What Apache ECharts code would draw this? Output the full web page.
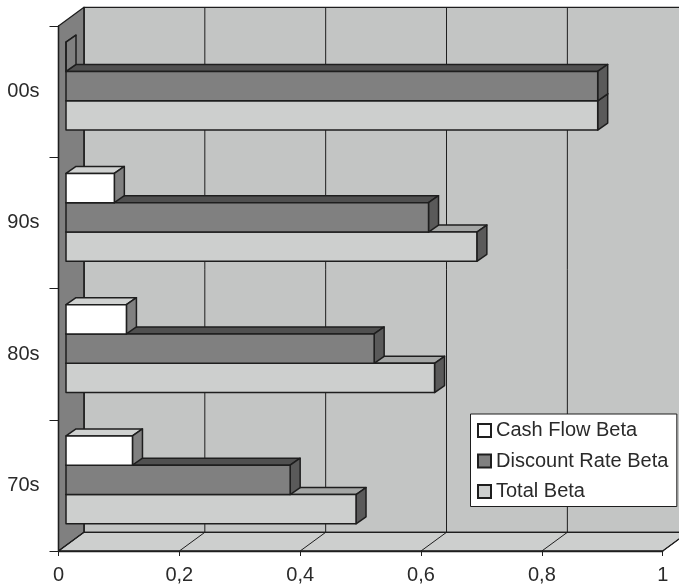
<!DOCTYPE html>
<html>
<head>
<meta charset="utf-8">
<script src="https://cdn.jsdelivr.net/npm/echarts@6/dist/echarts.min.js"></script>
<style>html,body{margin:0;padding:0;background:#fff}#c{width:679px;height:584px}</style>
</head>
<body>
<div id="c"></div>
<script>
const categories = ['70s', '80s', '90s', '00s'];
const cashFlowBeta = [0.11, 0.10, 0.08, 0];
const discountRateBeta = [0.371, 0.51, 0.60, 0.88];
const totalBeta = [0.48, 0.61, 0.68, 0.88];
const xTicks = [0, 0.2, 0.4, 0.6, 0.8, 1];

const WALL_DX = 25.5, WALL_DY = -18.7;
const BAR_OFF_X = 7.5, BAR_OFF_Y = -5.5;
const BAR_DX = 10, BAR_DY = -7;
const BAR_H = 29.3;
const INK = '#1e1e1e';

function poly(points, fill, w) {
  return { type: 'polygon', shape: { points }, style: { fill, stroke: INK, lineWidth: w || 1.5, lineJoin: 'round' } };
}
function barSeries(name, values, slot, front, top, side) {
  return {
    name, type: 'custom', coordinateSystem: 'cartesian2d', z: 3, clip: false,
    itemStyle: { color: front, borderColor: INK, borderWidth: 1.2 },
    encode: { x: 0, y: 1 },
    data: values.map((v, i) => [v, i]),
    renderItem(params, api) {
      const end = api.coord([api.value(0), api.value(1)]);
      const start = api.coord([0, api.value(1)]);
      const x0 = start[0] + BAR_OFF_X, x1 = end[0] + BAR_OFF_X;
      const yc = end[1] + BAR_OFF_Y + slot * BAR_H;
      const y0 = yc - BAR_H / 2, y1 = yc + BAR_H / 2;
      return { type: 'group', children: [
        poly([[x0, y0], [x0 + BAR_DX, y0 + BAR_DY], [x1 + BAR_DX, y0 + BAR_DY], [x1, y0]], top),
        poly([[x1, y0], [x1 + BAR_DX, y0 + BAR_DY], [x1 + BAR_DX, y1 + BAR_DY], [x1, y1]], side),
        poly([[x0, y0], [x1, y0], [x1, y1], [x0, y1]], front)
      ] };
    }
  };
}
const wallSeries = {
  type: 'custom', coordinateSystem: 'cartesian2d', z: 1, clip: false, silent: true,
  encode: { x: 0, y: 1 }, data: [[0, 0]],
  renderItem(params) {
    const c = params.coordSys, L = c.x, T = c.y, R = c.x + c.width, B = c.y + c.height;
    const d = WALL_DX, e = WALL_DY;
    return { type: 'group', children: [
      poly([[L + d, T + e], [R + d, T + e], [R + d, B + e], [L + d, B + e]], '#c3c5c4', 1.3),
      poly([[L, T], [L + d, T + e], [L + d, B + e], [L, B]], '#808080', 1.3),
      poly([[L, B], [L + d, B + e], [R + d, B + e], [R, B]], '#cdcfce', 1.3)
    ] };
  }
};
const gridSeries = {
  type: 'custom', coordinateSystem: 'cartesian2d', z: 2, clip: false, silent: true,
  encode: { x: 0, y: 1 }, data: xTicks.map(v => [v, 0]),
  renderItem(params, api) {
    const c = params.coordSys, x = api.coord([api.value(0), 0])[0];
    const T = c.y, B = c.y + c.height, d = WALL_DX, e = WALL_DY;
    const st = { stroke: INK, lineWidth: 1, fill: 'none' };
    return { type: 'group', children: [
      { type: 'line', shape: { x1: x + d, y1: T + e, x2: x + d, y2: B + e }, style: st },
      { type: 'line', shape: { x1: x, y1: B, x2: x + d, y2: B + e }, style: st }
    ] };
  }
};
const labelStyle = { fontFamily: 'Liberation Sans, Arial, sans-serif', fontSize: 20, color: '#2a2a2a' };
const chart = echarts.init(document.getElementById('c'), null, { renderer: 'canvas' });
chart.setOption({
  animation: false,
  backgroundColor: '#fff',
  grid: { left: 58.5, top: 26, width: 604.2, height: 525, containLabel: false, outerBoundsMode: 'none' },
  xAxis: {
    type: 'value', min: 0, max: 1, interval: 0.2, z: 10,
    splitLine: { show: false },
    axisLine: { show: true, lineStyle: { color: INK, width: 1.3 } },
    axisTick: { show: true, length: 5, lineStyle: { color: INK } },
    axisLabel: { ...labelStyle, margin: 14, formatter: v => String(v).replace('.', ',') }
  },
  yAxis: {
    type: 'category', data: categories, z: 10,
    axisLine: { show: true, lineStyle: { color: INK, width: 1.3 } },
    axisTick: { show: true, length: 9, lineStyle: { color: INK } },
    axisLabel: { ...labelStyle, margin: 19 }
  },
  legend: {
    left: 470.5, top: 414, orient: 'vertical', icon: 'rect',
    itemWidth: 13, itemHeight: 13, itemGap: 10.5, itemSpacing: 3,
    padding: [6.5, 8.5, 5, 6.5],
    backgroundColor: '#fff', borderColor: INK, borderWidth: 1,
    textStyle: { ...labelStyle },
    data: ['Cash Flow Beta', 'Discount Rate Beta', 'Total Beta']
  },
  series: [
    wallSeries,
    gridSeries,
    barSeries('Total Beta', totalBeta, 1, '#cdcfce', '#a4a6a5', '#5a5a5a'),
    barSeries('Discount Rate Beta', discountRateBeta, 0, '#808080', '#505050', '#5a5a5a'),
    barSeries('Cash Flow Beta', cashFlowBeta, -1, '#ffffff', '#d0d2d1', '#808080')
  ]
});
</script>
</body>
</html>
